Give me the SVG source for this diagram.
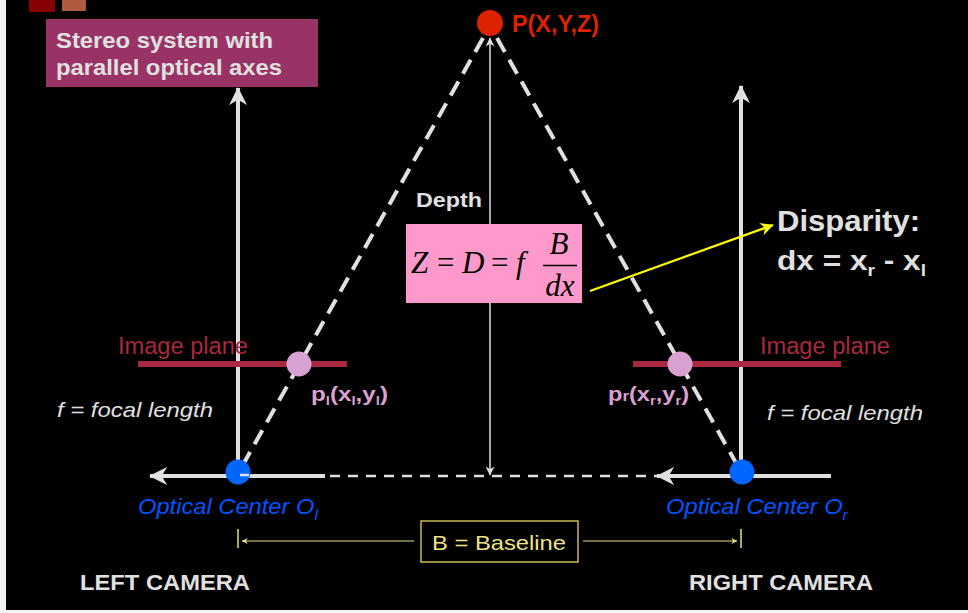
<svg xmlns="http://www.w3.org/2000/svg" width="968" height="613" viewBox="0 0 968 613">
<defs>
<marker id="ahW" markerUnits="userSpaceOnUse" viewBox="0 0 20 20" markerWidth="18" markerHeight="18" refX="19" refY="10" orient="auto">
<path d="M0,0 L20,10 L0,20 L6,10 z" fill="#E0E0E0"/>
</marker>
<marker id="ahS" markerUnits="userSpaceOnUse" viewBox="0 0 20 20" markerWidth="10" markerHeight="9" refX="19" refY="10" orient="auto">
<path d="M0,0 L20,10 L0,20 L6,10 z" fill="#E0E0E0"/>
</marker>
<marker id="ahY" markerUnits="userSpaceOnUse" viewBox="0 0 20 20" markerWidth="14" markerHeight="13" refX="19" refY="10" orient="auto">
<path d="M0,0 L20,10 L0,20 L6,10 z" fill="#FFFF00"/>
</marker>
<marker id="ahB" markerUnits="userSpaceOnUse" viewBox="0 0 20 20" markerWidth="7" markerHeight="6" refX="19" refY="10" orient="auto">
<path d="M0,0 L20,10 L0,20 L6,10 z" fill="#E8E080"/>
</marker>
</defs>
<style>
text{font-family:"Liberation Sans",Arial,sans-serif}
.lbl{fill:#E0E0E0;font-weight:bold}
.axis{stroke:#E0E0E0;stroke-width:4;fill:none}
.ray{stroke:#E0E0E0;stroke-width:4;stroke-dasharray:16 9;fill:none}
.plane{stroke:#A8283F;stroke-width:6}
.plabel{fill:#A8283F;font-size:23px}
.foc{fill:#E0E0E0;font-size:21px;font-style:italic}
.oc{fill:#0055FF;font-size:22px;font-style:italic}
.pt{fill:#D9A0D2;font-size:21px;font-weight:bold}
.math{font-family:"Liberation Serif","Times New Roman",serif;font-size:31px;fill:#000}
</style>
<rect x="0" y="0" width="968" height="613" fill="#000"/>
<rect x="0" y="0" width="6" height="613" fill="#F2F2F2"/>
<rect x="0" y="610" width="968" height="3" fill="#F2F2F2"/>
<rect x="29" y="0" width="26" height="12" fill="#880000"/>
<rect x="62" y="0" width="24" height="11" fill="#B05A42"/>

<g id="title">
<rect x="46" y="19" width="272" height="68" fill="#993366"/>
<text class="lbl" x="56" y="48" font-size="22" textLength="217" lengthAdjust="spacingAndGlyphs">Stereo system with</text>
<text class="lbl" x="56" y="75" font-size="22" textLength="226" lengthAdjust="spacingAndGlyphs">parallel optical axes</text>
</g>

<g id="connectors">
<line class="axis" x1="238" y1="472" x2="238" y2="88" marker-end="url(#ahW)"/>
<line class="axis" x1="741" y1="472" x2="741" y2="86" marker-end="url(#ahW)"/>
<line class="axis" x1="325" y1="476" x2="150" y2="476" marker-end="url(#ahW)"/>
<line class="axis" x1="831" y1="476" x2="657" y2="476" marker-end="url(#ahW)"/>
<line x1="490" y1="290" x2="490" y2="38" stroke="#E0E0E0" stroke-width="1.5" marker-end="url(#ahS)"/>
<line x1="490" y1="290" x2="490" y2="475" stroke="#E0E0E0" stroke-width="1.5" marker-end="url(#ahS)"/>
<line class="ray" x1="483" y1="38" x2="240" y2="470"/>
<line class="ray" x1="497" y1="38" x2="740" y2="470"/>
<line x1="590" y1="291" x2="773" y2="225" stroke="#FFFF00" stroke-width="2.2" marker-end="url(#ahY)"/>
<line x1="240" y1="476" x2="657" y2="476" stroke="#E0E0E0" stroke-width="2.5" stroke-dasharray="10 8"/>
</g>

<g id="point-P">
<circle cx="490" cy="23" r="13" fill="#DD2200"/>
<text x="512" y="32" font-size="23" font-weight="bold" fill="#DD2200" textLength="87" lengthAdjust="spacingAndGlyphs">P(X,Y,Z)</text>
</g>

<g id="depth">
<text class="lbl" x="416" y="207" font-size="21" textLength="66" lengthAdjust="spacingAndGlyphs">Depth</text>
<rect x="406" y="224" width="176" height="79" fill="#FF99CC"/>
<text class="math" x="411" y="273"><tspan font-style="italic">Z</tspan><tspan x="437">=</tspan><tspan x="462" font-style="italic">D</tspan><tspan x="491">=</tspan><tspan x="516" font-style="italic">f</tspan></text>
<line x1="543" y1="265.5" x2="577" y2="265.5" stroke="#000" stroke-width="1.5"/>
<text class="math" x="559" y="254" text-anchor="middle" font-style="italic">B</text>
<text class="math" x="560" y="296" text-anchor="middle" font-style="italic">dx</text>
</g>

<g id="disparity">
<text class="lbl" x="777" y="231" font-size="29" textLength="143" lengthAdjust="spacingAndGlyphs">Disparity:</text>
<text class="lbl" x="777" y="270" font-size="28" textLength="149" lengthAdjust="spacingAndGlyphs">dx = x<tspan font-size="17" dy="6">r</tspan><tspan dy="-6"> - x</tspan><tspan font-size="17" dy="6">l</tspan></text>
</g>

<g id="left-camera">
<line class="plane" x1="138" y1="364" x2="347" y2="364"/>
<text class="plabel" x="118" y="354" textLength="130" lengthAdjust="spacingAndGlyphs">Image plane</text>
<circle cx="299" cy="364" r="12.5" fill="#D9A0D2"/>
<text class="pt" x="311" y="401" textLength="77" lengthAdjust="spacingAndGlyphs">p<tspan font-size="13" dy="4">l</tspan><tspan dy="-4">(x</tspan><tspan font-size="13" dy="4">l</tspan><tspan dy="-4">,y</tspan><tspan font-size="13" dy="4">l</tspan><tspan dy="-4">)</tspan></text>
<text class="foc" x="57" y="417" textLength="156" lengthAdjust="spacingAndGlyphs">f = focal length</text>
<circle cx="238" cy="472" r="12.5" fill="#0066FF"/>
<line x1="240" y1="475" x2="249" y2="475" stroke="#E0E0E0" stroke-width="2.5"/>
<text class="oc" x="138" y="514" textLength="180" lengthAdjust="spacingAndGlyphs">Optical Center O<tspan font-size="15" dy="6">l</tspan></text>
<text class="lbl" x="80" y="590" font-size="22" textLength="170" lengthAdjust="spacingAndGlyphs">LEFT CAMERA</text>
</g>

<g id="right-camera">
<line class="plane" x1="633" y1="364" x2="841" y2="364"/>
<text class="plabel" x="760" y="354" textLength="130" lengthAdjust="spacingAndGlyphs">Image plane</text>
<circle cx="680" cy="364" r="12.5" fill="#D9A0D2"/>
<text class="pt" x="608" y="401" textLength="81" lengthAdjust="spacingAndGlyphs">p<tspan font-size="15">r</tspan>(x<tspan font-size="13" dy="4">r</tspan><tspan dy="-4">,y</tspan><tspan font-size="13" dy="4">r</tspan><tspan dy="-4">)</tspan></text>
<text class="foc" x="767" y="420" textLength="156" lengthAdjust="spacingAndGlyphs">f = focal length</text>
<circle cx="742" cy="472" r="12.5" fill="#0066FF"/>
<text class="oc" x="666" y="514" textLength="182" lengthAdjust="spacingAndGlyphs">Optical Center O<tspan font-size="15" dy="6">r</tspan></text>
<text class="lbl" x="689" y="590" font-size="22" textLength="184" lengthAdjust="spacingAndGlyphs">RIGHT CAMERA</text>
</g>

<g id="baseline">
<line x1="238" y1="529" x2="238" y2="548" stroke="#E8E080" stroke-width="1.5"/>
<line x1="741" y1="529" x2="741" y2="548" stroke="#E8E080" stroke-width="1.5"/>
<line x1="414" y1="541" x2="242" y2="541" stroke="#E8E080" stroke-width="1.2" marker-end="url(#ahB)"/>
<line x1="583" y1="541" x2="737" y2="541" stroke="#E8E080" stroke-width="1.2" marker-end="url(#ahB)"/>
<rect x="421" y="521" width="157" height="41" fill="none" stroke="#C8B850" stroke-width="1.5"/>
<text x="432" y="550" font-size="21" fill="#EEE288" textLength="134" lengthAdjust="spacingAndGlyphs">B = Baseline</text>
</g>
</svg>
